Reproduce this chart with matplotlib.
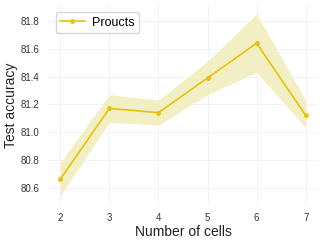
import numpy as np
import matplotlib
matplotlib.use("Agg")
import matplotlib.pyplot as plt

cells = [2, 3, 4, 5, 6, 7]
acc_mean = [80.66, 81.17, 81.14, 81.39, 81.64, 81.12]
acc_low = [80.54, 81.07, 81.05, 81.27, 81.43, 81.03]
acc_high = [80.78, 81.27, 81.23, 81.51, 81.85, 81.23]
yticks = [80.6, 80.8, 81.0, 81.2, 81.4, 81.6, 81.8]

plt.rcParams["font.family"] = ["Liberation Sans", "DejaVu Sans"]

fig = plt.figure(figsize=(3.24, 2.43), dpi=100)
ax = fig.add_axes([48 / 324, 1 - 205 / 243, 270 / 324, 200 / 243])

color = "#e8c20c"
ax.fill_between(cells, acc_low, acc_high, color="#f3efc4", linewidth=0)
ax.plot(
    cells,
    acc_mean,
    color=color,
    linewidth=1.2,
    marker="o",
    markersize=2.5,
    label="Proucts",
)

ax.set_xticks(cells)
ax.set_yticks(yticks)
ax.set_yticklabels([f"{v:.1f}" for v in yticks])
ax.grid(True, color="#f0f0f0", linewidth=0.6)
ax.set_axisbelow(True)
for s in ax.spines.values():
    s.set_visible(False)
ax.tick_params(length=0, labelsize=7, colors="#333333", pad=6)

ax.set_xlabel("Number of cells", fontsize=10, color="#222222", labelpad=1)
ax.set_ylabel("Test accuracy", fontsize=10, color="#222222", labelpad=2)

ax.legend(
    loc="upper left",
    fontsize=9,
    frameon=True,
    fancybox=True,
    edgecolor="#cccccc",
    handlelength=2.0,
    handletextpad=0.6,
    borderpad=0.35,
    borderaxespad=0.6,
)

fig.savefig("out.png", dpi=100)
